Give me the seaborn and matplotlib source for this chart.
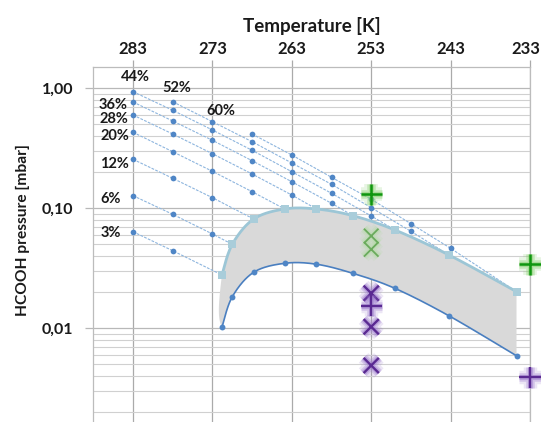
import numpy as np
import matplotlib
matplotlib.use("Agg")
import matplotlib.pyplot as plt
import matplotlib.patheffects as pe
from matplotlib.ticker import FixedLocator, NullFormatter, LogLocator
from matplotlib.transforms import ScaledTranslation
import seaborn as sns

# ---------------- data ----------------
T_grid = [283, 278, 273, 268, 263, 258, 253, 248, 243]

conc_labels = ["3%", "6%", "12%", "20%", "28%", "36%", "44%", "52%", "60%"]
conc_start_index = [0, 0, 0, 0, 0, 0, 0, 1, 3]
p_3 = [0.0638, 0.0443]
p_6 = [0.1274, 0.0891, 0.0611]
p_12 = [0.256, 0.1778, 0.1226]
p_20 = [0.430, 0.2962, 0.2034, 0.1375]
p_28 = [0.599, 0.416, 0.285, 0.1931, 0.129]
p_36 = [0.769, 0.534, 0.3687, 0.2492, 0.1665, 0.1101]
p_44 = [0.937, 0.656, 0.4494, 0.3043, 0.2018, 0.1334, 0.0863]
p_52 = [0.773, 0.5267, 0.3589, 0.2385, 0.1585, 0.1012, 0.0643]
p_60 = [0.416, 0.278, 0.1813, 0.1189, 0.0744, 0.0464]
conc_p = [p_3, p_6, p_12, p_20, p_28, p_36, p_44, p_52, p_60]

# freezing (upper) curve and lower curve
curve_T = [271.8, 270.5, 267.8, 263.9, 259.9, 255.3, 250.0, 243.2, 234.7]
upper_p = [0.0278, 0.0501, 0.0814, 0.0987, 0.0987, 0.0868, 0.0659, 0.0408, 0.0202]
lower_p = [0.0102, 0.0183, 0.0293, 0.0348, 0.0342, 0.0287, 0.0215, 0.0127, 0.0059]

# measurement markers
green_plus_T = [253, 233]
green_plus_p = [0.1308, 0.0342]
lightgreen_x_T = [253, 253]
lightgreen_x_p = [0.0588, 0.0455]
purple_x_T = [253, 253, 253]
purple_x_p = [0.0196, 0.0103, 0.0049]
purple_plus_T = [253, 233]
purple_plus_p = [0.0154, 0.0039]

xticks = [283, 273, 263, 253, 243, 233]
yticks = [1.0, 0.1, 0.01]
ytick_labels = ["1,00", "0,10", "0,01"]

# label offsets in pixels relative to first point of each line
label_offsets = {"3%": (-22, -1), "6%": (-22, -3), "12%": (-19, -5), "20%": (-18, -4),
                 "28%": (-19, -4), "36%": (-20, -3), "44%": (2, 15), "52%": (4, 14),
                 "60%": (-31, 23)}

# ---------------- style ----------------
sns.set_theme(style="white")
plt.rcParams["font.family"] = ["Lato", "DejaVu Sans"]
plt.rcParams["font.weight"] = "bold"

W, H = 541, 422
fig = plt.figure(figsize=(W / 100, H / 100), dpi=100)
ax = fig.add_axes([93 / W, 0, (530 - 93) / W, 355 / H])
ax.set_yscale("log")
ax.set_xlim(288.04, 233)
ax.set_ylim(0.001656, 1.505)

SX, SY = 7.94, 120.0


def to_px(xs, ys):
    return np.column_stack([np.asarray(xs, float) * SX, np.log10(ys) * SY])


def from_px(S):
    return S[:, 0] / SX, 10 ** (S[:, 1] / SY)


def bez(p1, c1, c2, p2, n=30):
    t = np.linspace(0, 1, n)[:, None]
    return (1 - t) ** 3 * p1 + 3 * (1 - t) ** 2 * t * c1 + 3 * (1 - t) * t ** 2 * c2 + t ** 3 * p2


def smooth_px(P):
    ext = np.vstack([P[0], P, P[-1]])
    out = []
    for i in range(len(P) - 1):
        p0, p1, p2, p3 = ext[i], ext[i + 1], ext[i + 2], ext[i + 3]
        out.append(bez(p1, p1 + (p2 - p0) / 6, p2 - (p3 - p1) / 6, p2))
    return np.vstack(out)


# grid
ax.yaxis.set_minor_locator(LogLocator(base=10, subs=np.arange(2, 10)))
ax.yaxis.set_minor_formatter(NullFormatter())
ax.grid(which="major", axis="x", color="#aaaaaa", lw=0.9)
ax.grid(which="major", axis="y", color="#b8b8b8", lw=0.9)
ax.grid(which="minor", axis="y", color="#d0d0d0", lw=0.8)
ax.set_axisbelow(True)

# gray fill between curves
PU = to_px(curve_T, upper_p)
PL = to_px(curve_T, lower_p)
up_s = smooth_px(PU)
lo_s = smooth_px(PL)[::-1]
left_close = bez(PL[0], PL[0] + (PU[0] - PL[1]) / 2.5, PU[0] - (PU[1] - PL[0]) / 2.5, PU[0])
outline = np.vstack([up_s, lo_s, left_close])
fx, fy = from_px(outline)
ax.fill(fx, fy, color="#d9d9d9", lw=0, zorder=1)

# concentration lines
dot_color = "#4f86c6"
for i, (lab, si, ps) in enumerate(zip(conc_labels, conc_start_index, conc_p)):
    ts = T_grid[si:si + len(ps)]
    lx = list(ts) + [curve_T[i]]
    ly = list(ps) + [upper_p[i]]
    sns.lineplot(x=lx, y=ly, sort=False, estimator=None, ax=ax, color="#8db5de",
                 lw=0.8, linestyle=(0, (2.5, 1.2)), zorder=2)
    sns.scatterplot(x=ts, y=ps, ax=ax, color=dot_color, s=17, linewidth=0, zorder=5)
    dx, dy = label_offsets[lab]
    ax.annotate(lab, xy=(ts[0], ps[0]), xytext=(dx, dy), textcoords="offset pixels",
                ha="center", va="center", fontsize=10.5, fontweight="bold", color="#1a1a1a")

# upper curve
ux, uy = from_px(up_s)
sns.lineplot(x=ux, y=uy, sort=False, estimator=None, ax=ax, color="#9cc6d6", lw=2.0, zorder=3)
sns.scatterplot(x=curve_T, y=upper_p, ax=ax, marker="s", color="#a9cdda", s=40, linewidth=0, zorder=6)

# lower curve
lx_, ly_ = from_px(smooth_px(PL))
sns.lineplot(x=lx_, y=ly_, sort=False, estimator=None, ax=ax, color="#4a7fc0", lw=1.2, zorder=3)
sns.scatterplot(x=curve_T, y=lower_p, ax=ax, color=dot_color, s=18, linewidth=0, zorder=6)


def glow_markers(xs, ys, marker, size, color, glow, lw):
    sns.scatterplot(x=xs, y=ys, ax=ax, marker=marker, s=size, color=color,
                    linewidth=lw, zorder=8, clip_on=False)
    coll = ax.collections[-1]
    coll.set_clip_on(False)
    coll.set_path_effects([pe.Stroke(linewidth=lw + 8, foreground=glow, alpha=0.18),
                           pe.Stroke(linewidth=lw + 4.5, foreground=glow, alpha=0.3),
                           pe.Stroke(linewidth=lw + 2, foreground=glow, alpha=0.45),
                           pe.Normal()])


glow_markers(lightgreen_x_T, lightgreen_x_p, "x", 110, "#6aab5c", "#b5dba8", 1.3)
glow_markers(green_plus_T, green_plus_p, "+", 230, "#0f960f", "#7fcc66", 1.8)
glow_markers(purple_x_T, purple_x_p, "x", 120, "#5a2a92", "#9a78cc", 1.7)
glow_markers(purple_plus_T, purple_plus_p, "+", 230, "#5a2a92", "#9a78cc", 1.7)

# axes / ticks
ax.xaxis.set_major_locator(FixedLocator(xticks))
ax.xaxis.tick_top()
ax.xaxis.set_label_position("top")
ax.set_xticks(xticks)
ax.set_xticklabels([str(t) for t in xticks])
ax.set_yticks(yticks)
ax.set_yticklabels(ytick_labels)
ax.tick_params(axis="x", which="major", top=True, bottom=False, length=5, width=0.9,
               color="#aaaaaa", pad=2, labelsize=12, labelcolor="#1a1a1a")
ax.tick_params(axis="y", which="major", left=True, length=6, width=0.9,
               color="#b8b8b8", pad=8, labelsize=11.5, labelcolor="#1a1a1a")
ax.tick_params(axis="y", which="minor", left=False, length=0)
for lbl in ax.get_xticklabels() + ax.get_yticklabels():
    lbl.set_fontweight("bold")
last = ax.get_xticklabels()[-1]
last.set_transform(last.get_transform() + ScaledTranslation(-3 / 72, 0, fig.dpi_scale_trans))

ax.set_xlabel("Temperature [K]", fontsize=13.5, fontweight="bold", labelpad=7, color="#1a1a1a")
fig.text(23 / W, 1 - 230 / H, "HCOOH pressure [mbar]", rotation=90, ha="center", va="center",
         fontsize=11.2, fontweight="bold", color="#1a1a1a")

for s in ["left", "top", "right"]:
    ax.spines[s].set_color("#bcbcbc")
    ax.spines[s].set_linewidth(0.9)
ax.spines["bottom"].set_visible(False)

fig.savefig("out.png", dpi=100)
